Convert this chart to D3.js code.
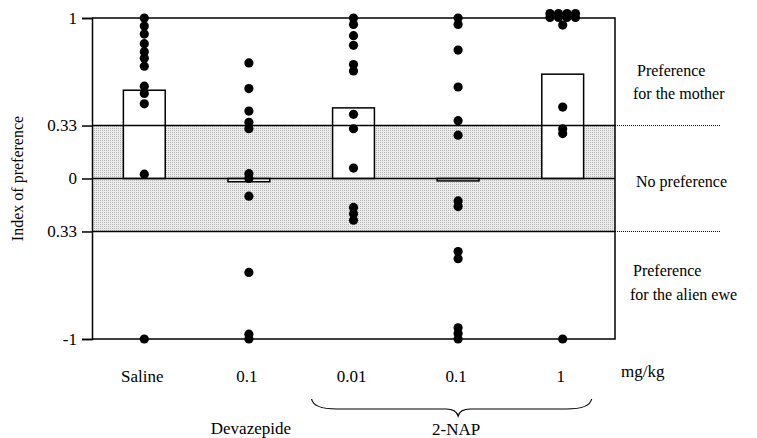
<!DOCTYPE html>
<html>
<head>
<meta charset="utf-8">
<script src="https://cdn.jsdelivr.net/npm/d3@7"></script>
<style>
  body { margin: 0; background: #fff; }
</style>
</head>
<body>
<div id="chart"></div>
<script>
// doses along the x axis
var categories = ["Saline", "0.1", "0.01", "0.1", "1"];
// mean index of preference per group (bars)
var means = [0.55, -0.02, 0.44, -0.015, 0.65];
// individual lambs per group
var salinePts = [1.0, 0.95, 0.90, 0.84, 0.79, 0.75, 0.70, 0.575, 0.53, 0.465, 0.027, -1.0];
var devazepidePts = [0.72, 0.56, 0.42, 0.35, 0.31, 0.03, 0.0, -0.11, -0.585, -0.97, -1.0];
var nap001Pts = [1.0, 0.96, 0.89, 0.83, 0.71, 0.67, 0.40, 0.31, 0.065, -0.18, -0.22, -0.26];
var nap01Pts = [1.0, 0.96, 0.80, 0.57, 0.36, 0.27, -0.14, -0.175, -0.455, -0.50, -0.93, -0.965, -1.0];
var nap1Pts = [1.0, 1.0, 1.0, 1.0, 1.0, 1.0, 1.0, 1.0, 0.956, 0.445, 0.31, 0.28, -1.0];
var points = [salinePts, devazepidePts, nap001Pts, nap01Pts, nap1Pts];

var yTicks = [1, 0.33, 0, -0.33, -1];
var yTickLabels = ["1", "0.33", "0", "0.33", "-1"];
var zoneLow = -0.33, zoneHigh = 0.33;

var svgWidth = 757;
var svgHeight = 438;
var margin = { top: 18, right: 142, bottom: 99, left: 92 };
var width = svgWidth - margin.left - margin.right;
var height = svgHeight - margin.top - margin.bottom;
var serif = "Liberation Serif";

var svg = d3.select("#chart")
  .append("svg")
  .attr("width", svgWidth)
  .attr("height", svgHeight)
  .attr("font-family", serif)
  .attr("font-size", 16);

var defs = svg.append("defs");
var pat = defs.append("pattern")
  .attr("id", "stipple")
  .attr("width", 2).attr("height", 2)
  .attr("patternUnits", "userSpaceOnUse");
pat.append("rect").attr("width", 2).attr("height", 2).attr("fill", "#ececec");
pat.append("rect").attr("width", 1).attr("height", 1).attr("fill", "#b8b8b8");

var g = svg.append("g")
  .attr("transform", `translate(${margin.left}, ${margin.top})`);

var x = d3.scaleBand()
  .domain(d3.range(categories.length))
  .range([0, width])
  .paddingInner(0.6)
  .paddingOuter(0.3);

var y = d3.scaleLinear()
  .domain([-1, 1])
  .range([height, 0]);

// shaded "no preference" zone
g.append("rect")
  .attr("x", 0)
  .attr("y", y(zoneHigh))
  .attr("width", width)
  .attr("height", y(zoneLow) - y(zoneHigh))
  .attr("fill", "url(#stipple)");

// bars
g.selectAll(".bar")
  .data(means)
  .enter()
  .append("rect")
  .attr("class", "bar")
  .attr("x", (d, i) => x(i))
  .attr("y", d => y(Math.max(0, d)))
  .attr("width", x.bandwidth())
  .attr("height", d => Math.abs(y(d) - y(0)))
  .attr("fill", "#fff")
  .attr("stroke", "#000")
  .attr("stroke-width", 1.5);

// horizontal reference lines
[zoneHigh, 0, zoneLow].forEach(function(v) {
  g.append("line")
    .attr("x1", 0).attr("x2", width)
    .attr("y1", y(v)).attr("y2", y(v))
    .attr("stroke", "#000").attr("stroke-width", 1.5);
});
[zoneHigh, zoneLow].forEach(function(v) {
  g.append("line")
    .attr("x1", width).attr("x2", width + 105)
    .attr("y1", y(v)).attr("y2", y(v))
    .attr("stroke", "#000").attr("stroke-width", 1)
    .attr("stroke-dasharray", "1,1");
});

// frame: top, right, bottom
g.append("path")
  .attr("d", `M0,${y(1)}H${width}V${y(-1)}H0`)
  .attr("fill", "none")
  .attr("stroke", "#000")
  .attr("stroke-width", 1.5);

// y axis
var leftAxis = d3.axisLeft(y)
  .tickValues(yTicks)
  .tickFormat((d, i) => yTickLabels[i])
  .tickSize(10)
  .tickPadding(5);

var yAxis = g.append("g").call(leftAxis)
  .attr("font-family", serif)
  .attr("font-size", 17);
yAxis.select(".domain").attr("stroke-width", 1.5);
yAxis.selectAll(".tick line").attr("stroke-width", 1.5);

// dots; identical values are spread sideways in two rows
var dots = [];
points.forEach(function(arr, i) {
  var counts = d3.rollup(arr, v => v.length, d => d);
  var seen = new Map();
  arr.forEach(function(v) {
    var n = counts.get(v);
    var k = seen.get(v) || 0;
    seen.set(v, k + 1);
    var dx = 0, dy = 0;
    if (n > 2) {
      var cols = Math.ceil(n / 2);
      var col = k % cols, row = Math.floor(k / cols);
      dx = (col - (cols - 1) / 2) * 8.5;
      dy = row === 0 ? -4.5 : -0.5;
    }
    dots.push({ i: i, v: v, dx: dx, dy: dy });
  });
});

g.selectAll(".dot")
  .data(dots)
  .enter()
  .append("circle")
  .attr("class", "dot")
  .attr("cx", d => x(d.i) + x.bandwidth() / 2 + d.dx)
  .attr("cy", d => y(d.v) + d.dy)
  .attr("r", 4.6)
  .attr("fill", "#000");

// x labels
g.selectAll(".xlab")
  .data(categories)
  .enter()
  .append("text")
  .attr("class", "xlab")
  .attr("x", (d, i) => x(i) + x.bandwidth() / 2 - 2)
  .attr("y", height + 43)
  .attr("font-size", 17)
  .attr("text-anchor", "middle")
  .text(d => d);

g.append("text")
  .attr("x", width + 6)
  .attr("y", height + 38)
  .attr("font-size", 17)
  .text("mg/kg");

// brace under the 2-NAP doses
var bx0 = x(2) - 21, bx1 = x(4) + x.bandwidth() + 8;
var bm = x(3) + x.bandwidth() / 2;
var by = height + 60;
g.append("path")
  .attr("d", `M${bx0},${by} Q${bx0 + 2},${by + 10} ${bx0 + 25},${by + 10} L${bm - 12},${by + 10} Q${bm - 2},${by + 10} ${bm},${by + 17} Q${bm + 2},${by + 10} ${bm + 12},${by + 10} L${bx1 - 25},${by + 10} Q${bx1 - 2},${by + 10} ${bx1},${by}`)
  .attr("fill", "none")
  .attr("stroke", "#000")
  .attr("stroke-width", 1.2);

g.append("text")
  .attr("x", x(1) + x.bandwidth() / 2 + 2)
  .attr("y", height + 95)
  .attr("font-size", 17)
  .attr("text-anchor", "middle")
  .text("Devazepide");

g.append("text")
  .attr("x", bm - 2)
  .attr("y", height + 96)
  .attr("font-size", 17)
  .attr("text-anchor", "middle")
  .text("2-NAP");

// y axis title
svg.append("text")
  .attr("transform", `translate(23, ${margin.top + y(0)}) rotate(-90)`)
  .attr("text-anchor", "middle")
  .text("Index of preference");

// zone annotations
var notes = [
  { t: "Preference", x: 637, y: 76 },
  { t: "for the mother", x: 633, y: 99 },
  { t: "No preference", x: 636, y: 187 },
  { t: "Preference", x: 633, y: 276 },
  { t: "for the alien ewe", x: 630, y: 300 }
];
svg.selectAll(".note")
  .data(notes)
  .enter()
  .append("text")
  .attr("class", "note")
  .attr("x", d => d.x)
  .attr("y", d => d.y)
  .text(d => d.t);
</script>
</body>
</html>
